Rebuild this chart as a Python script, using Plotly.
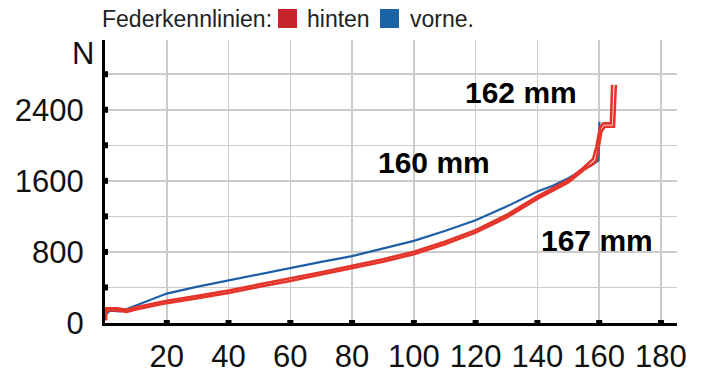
import plotly.graph_objects as go

# Federweg (mm) und Kraft (N)
vorne_x = [0.5, 1.5, 5, 10, 20, 30, 40, 50, 60, 70, 80, 90, 100, 110, 120, 130, 140, 145, 150, 155, 158, 159.8, 160.1]
vorne_y = [100, 140, 130, 195, 331, 410, 481, 552, 624, 688, 752, 835, 924, 1035, 1157, 1310, 1480, 1545, 1630, 1730, 1785, 1830, 2265]

hinten_a_x = [0.3, 0.3, 4, 7, 10, 20, 30, 40, 50, 60, 70, 80, 90, 100, 110, 120, 130, 140, 145, 150, 155, 158, 159.1, 160.2, 161.3, 163.8, 164.2]
hinten_a_y = [30, 165, 165, 150, 178, 250, 305, 365, 435, 500, 572, 645, 718, 802, 915, 1045, 1215, 1425, 1515, 1610, 1750, 1845, 1983, 2190, 2247, 2247, 2680]

hinten_b_x = [0.3, 0.3, 4, 7, 10, 20, 30, 40, 50, 60, 70, 80, 90, 100, 110, 120, 130, 140, 145, 150, 155, 158, 159.1, 160.7, 161.8, 164.8, 165.4]
hinten_b_y = [30, 140, 140, 125, 152, 224, 279, 338, 408, 472, 545, 617, 690, 774, 887, 1017, 1187, 1397, 1488, 1583, 1722, 1790, 1830, 2153, 2209, 2209, 2680]

x_ticks = [20, 40, 60, 80, 100, 120, 140, 160, 180]
y_ticks = [0, 400, 800, 1200, 1600, 2000, 2400, 2800]
y_labels = ["0", "", "800", "", "1600", "", "2400", ""]

FONT = "Liberation Sans, Arial, sans-serif"
RED = "#e5352a"
BLUE = "#1c5ea8"

L, R, T, B = 105, 35, 40, 59
PW = 712 - L - R
PH = 382 - T - B


def px_x(px):
    return (px - L) / PW


def px_y(py):
    return (382 - B - py) / PH


fig = go.Figure()
fig.add_trace(go.Scatter(x=vorne_x, y=vorne_y, mode="lines",
                         line=dict(color=BLUE, width=2.2), name="vorne"))
fig.add_trace(go.Scatter(x=hinten_b_x, y=hinten_b_y, mode="lines",
                         line=dict(color=RED, width=2.6), name="hinten"))
fig.add_trace(go.Scatter(x=hinten_a_x, y=hinten_a_y, mode="lines",
                         line=dict(color=RED, width=2.6), name="hinten"))

# square tick markers on axes
fig.add_trace(go.Scatter(x=x_ticks, y=[0] * len(x_ticks), mode="markers",
                         marker=dict(symbol="square", size=6, color="black"),
                         cliponaxis=False, hoverinfo="skip"))
fig.add_trace(go.Scatter(x=[0] * (len(y_ticks) - 1), y=y_ticks[1:], mode="markers",
                         marker=dict(symbol="square", size=6, color="black"),
                         cliponaxis=False, hoverinfo="skip"))

fig.update_layout(
    width=712, height=382,
    margin=dict(l=L, r=R, t=T, b=B),
    paper_bgcolor="white", plot_bgcolor="white",
    showlegend=False,
    font=dict(family=FONT, color="#111"),
    xaxis=dict(range=[0, 185.2], tickvals=x_ticks, ticktext=[str(v) for v in x_ticks],
               showgrid=True, gridcolor="#cccccc", gridwidth=1.5,
               showline=True, linecolor="black", linewidth=3,
               ticks="outside", ticklen=4, tickcolor="rgba(0,0,0,0)", tickangle=0,
               automargin=False,
               tickfont=dict(size=31, family=FONT, color="#111"), zeroline=False),
    yaxis=dict(range=[0, 3185], tickvals=y_ticks, ticktext=y_labels,
               showgrid=True, gridcolor="#cccccc", gridwidth=1.5,
               showline=True, linecolor="black", linewidth=3,
               ticks="outside", ticklen=12, tickcolor="rgba(0,0,0,0)",
               automargin=False,
               tickfont=dict(size=31, family=FONT, color="#111"), zeroline=False),
)

# axis unit
fig.add_annotation(x=px_x(96), y=px_y(53), xref="paper", yref="paper", text="N", showarrow=False,
                   xanchor="right", yanchor="middle",
                   font=dict(size=31, family=FONT, color="#111"))

# curve labels
for txt, xx, yy in [("162 mm", 134.6, 2589), ("160 mm", 106.6, 1811), ("167 mm", 159.4, 932)]:
    fig.add_annotation(x=xx, y=yy, text="<b>" + txt + "</b>", showarrow=False,
                       xanchor="center", yanchor="middle",
                       font=dict(size=30, family=FONT, color="black"))

# legend header
for txt, x0 in [("Federkennlinien:", 100), ("hinten", 305), ("vorne.", 408)]:
    fig.add_annotation(x=px_x(x0), y=px_y(19), xref="paper", yref="paper", text=txt,
                       showarrow=False, xanchor="left", yanchor="middle",
                       font=dict(size=23, family=FONT, color="#222"))
for x0, col in [(278, "#c8242c"), (380, "#1a64a6")]:
    fig.add_shape(type="rect", xref="paper", yref="paper",
                  x0=px_x(x0), x1=px_x(x0 + 19), y0=px_y(28), y1=px_y(9),
                  fillcolor=col, line=dict(width=0))

fig.write_html("out.html", config={"displayModeBar": False, "staticPlot": True},
               post_script="document.body.style.margin='0';document.body.style.overflow='hidden';")
